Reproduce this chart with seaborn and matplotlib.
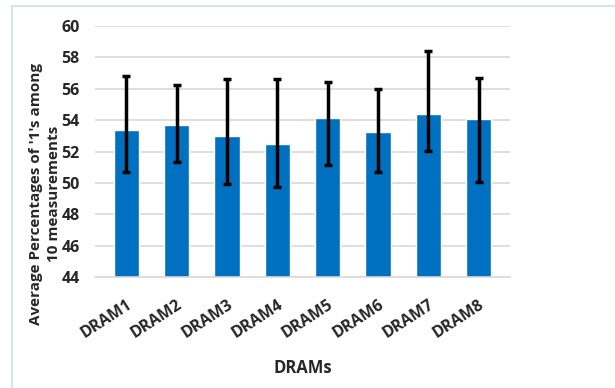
import matplotlib
matplotlib.use("Agg")
import matplotlib.pyplot as plt
from matplotlib.patches import Rectangle
import numpy as np
import pandas as pd
import seaborn as sns

drams = ["DRAM1", "DRAM2", "DRAM3", "DRAM4", "DRAM5", "DRAM6", "DRAM7", "DRAM8"]
avg_pct = [53.35, 53.7, 53.0, 52.46, 54.14, 53.25, 54.4, 54.08]
err_low = [50.7, 51.32, 49.92, 49.75, 51.17, 50.7, 52.06, 50.08]
err_high = [56.8, 56.26, 56.62, 56.62, 56.43, 56.0, 58.4, 56.7]

df = pd.DataFrame({"dram": drams, "avg": avg_pct})

sns.set_theme(style="white")
plt.rcParams["font.family"] = ["Open Sans", "DejaVu Sans"]

fig = plt.figure(figsize=(6.15, 3.88), dpi=100)
ax = fig.add_axes([95 / 615, 1 - 277 / 388, 415 / 615, 251 / 388])

sns.barplot(data=df, x="dram", y="avg", color="#0070C0", saturation=1,
            width=0.5, ax=ax, zorder=2)

x = np.arange(len(drams))
lo = np.array(avg_pct) - np.array(err_low)
hi = np.array(err_high) - np.array(avg_pct)
ax.errorbar(x, avg_pct, yerr=[lo, hi], fmt="none", ecolor="black",
            elinewidth=2.5, capsize=3, capthick=2.5, zorder=3)

ax.set_ylim(44, 60)
ax.set_yticks(range(44, 61, 2))
ax.yaxis.grid(True, color="#D9D9D9", linewidth=1.2, zorder=0)
ax.set_axisbelow(True)
for s in ["top", "right", "left"]:
    ax.spines[s].set_visible(False)
ax.spines["bottom"].set_color("#D9D9D9")
ax.spines["bottom"].set_linewidth(1.2)
ax.tick_params(axis="both", length=0, labelsize=11.5)
ax.tick_params(axis="y", pad=11)
ax.tick_params(axis="x", pad=14)
for lab in ax.get_yticklabels():
    lab.set_fontweight("bold")
for lab in ax.get_xticklabels():
    lab.set_fontweight("bold")
    lab.set_rotation(33)
    lab.set_ha("right")
    lab.set_rotation_mode("anchor")

ax.set_xlabel("DRAMs", fontsize=12, fontweight="bold")
ax.xaxis.set_label_coords(0.5, -82 / 251)
ax.set_ylabel("Average Percentages of '1's among\n10 measurements",
              fontsize=11, fontweight="bold", linespacing=1.35)
ax.yaxis.set_label_coords(-34 / 415, (277 - 194) / 251)

fig.patches.append(Rectangle((12 / 615, -0.05), 1.0, 1 - 6 / 388 + 0.05,
                             transform=fig.transFigure, fill=False,
                             edgecolor="#D6E4F0", linewidth=1.5))

fig.savefig("out.png", dpi=100)
